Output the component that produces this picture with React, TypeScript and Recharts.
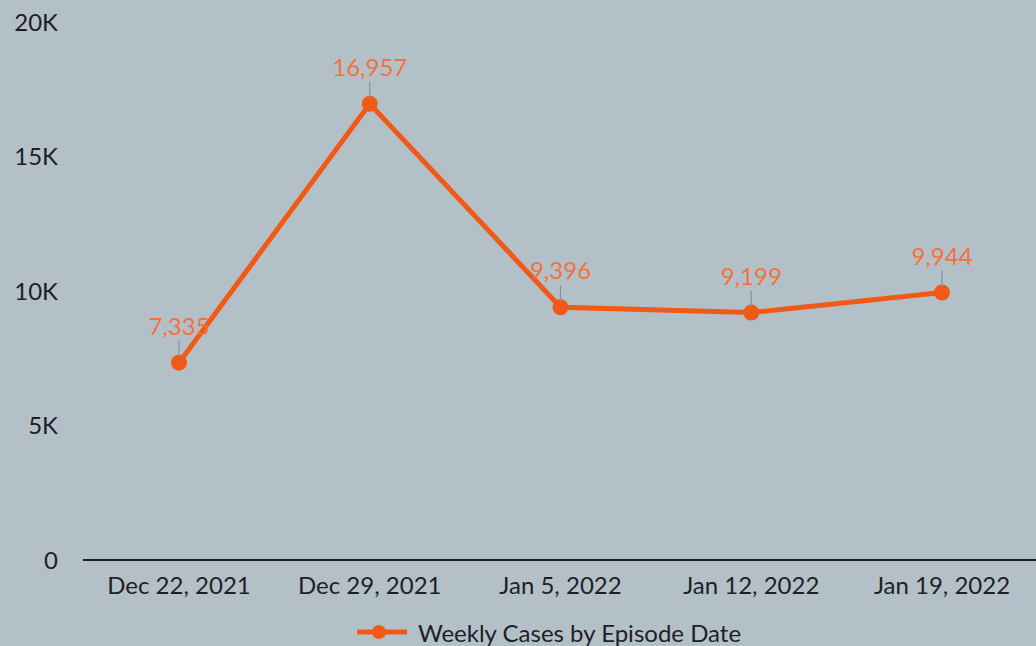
import { CartesianGrid, LabelList, Legend, Line, LineChart, XAxis, YAxis } from "recharts"

const weeks = ["Dec 22, 2021", "Dec 29, 2021", "Jan 5, 2022", "Jan 12, 2022", "Jan 19, 2022"]
const weeklyCases = [7335, 16957, 9396, 9199, 9944]
const yTicks = [0, 5000, 10000, 15000, 20000]

const data = weeks.map((week, i) => ({ week, cases: weeklyCases[i] }))

const ORANGE = "#f15a16"
const LABEL = "#f2723c"
const TEXT = "#1e1e28"
const FONT = "Lato, 'Open Sans', sans-serif"

const fmtK = (v: number) => (v === 0 ? "0" : `${v / 1000}K`)

function PointLabel(props: any) {
  const { x, y, value } = props
  return (
    <g>
      <line x1={x} y1={y - 6} x2={x} y2={y - 22} stroke="#8a8f94" strokeWidth={1.2} />
      <text x={x} y={y - 28} textAnchor="middle" fill={LABEL} fontSize={24} fontFamily={FONT}>
        {value.toLocaleString("en-US")}
      </text>
    </g>
  )
}

function LegendBox() {
  return (
    <div
      style={{
        display: "flex",
        justifyContent: "center",
        alignItems: "center",
        height: 36,
        paddingTop: 8,
        paddingLeft: 62,
        boxSizing: "border-box",
        fontFamily: FONT,
      }}
    >
      <svg width={50} height={20} style={{ marginRight: 11 }}>
        <line x1={0} y1={10} x2={50} y2={10} stroke={ORANGE} strokeWidth={5} />
        <circle cx={22} cy={10} r={7} fill={ORANGE} />
      </svg>
      <span style={{ fontSize: 24, color: TEXT }}>Weekly Cases by Episode Date</span>
    </div>
  )
}

export default function App() {
  return (
    <div style={{ position: "absolute", left: 0, top: 0, width: 1036, height: 646, background: "#b4c0c7" }}>
      <LineChart width={1036} height={646} data={data} margin={{ top: 22, right: 0, left: 0, bottom: 0 }}>
        <CartesianGrid vertical={false} horizontal={false} />
        <XAxis
          dataKey="week"
          padding={{ left: 96, right: 94 }}
          height={50}
          axisLine={{ stroke: TEXT, strokeWidth: 2 }}
          tickLine={false}
          tickMargin={11}
          tick={{ fill: TEXT, fontSize: 24, fontFamily: FONT }}
        />
        <YAxis
          width={83}
          domain={[0, 20000]}
          ticks={yTicks}
          tickFormatter={fmtK}
          axisLine={false}
          tickLine={false}
          tickMargin={19}
          tick={{ fill: TEXT, fontSize: 24, fontFamily: FONT }}
        />
        <Legend verticalAlign="bottom" height={36} content={() => <LegendBox />} />
        <Line
          type="linear"
          dataKey="cases"
          stroke={ORANGE}
          strokeWidth={5}
          dot={{ r: 8, fill: ORANGE, stroke: ORANGE, strokeWidth: 0 }}
          activeDot={false}
          isAnimationActive={false}
        >
          <LabelList dataKey="cases" content={PointLabel} />
        </Line>
      </LineChart>
    </div>
  )
}
